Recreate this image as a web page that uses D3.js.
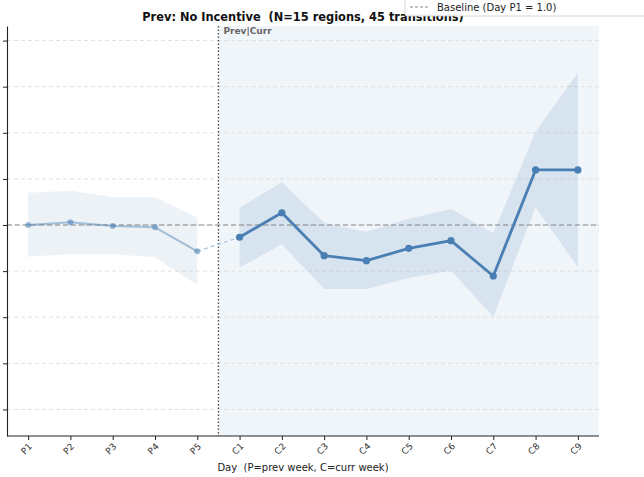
<!DOCTYPE html>
<html>
<head>
<meta charset="utf-8">
<script src="https://cdn.jsdelivr.net/npm/d3@7"></script>
<style>
  html, body { margin: 0; padding: 0; background: #fff; }
  svg { display: block; font-family: "DejaVu Sans", sans-serif; }
  text { white-space: pre; }
</style>
</head>
<body>
<svg id="chart" width="644" height="477"></svg>
<script>
// ---- data ----
const prevDays = ["P1", "P2", "P3", "P4", "P5"];
const currDays = ["C1", "C2", "C3", "C4", "C5", "C6", "C7", "C8", "C9"];
const prevMean = [1.000, 1.003, 0.999, 0.9975, 0.9715];
const prevLow  = [0.9656, 0.9685, 0.9682, 0.965, 0.9349];
const prevHigh = [1.035, 1.0372, 1.030, 1.030, 1.0079];
const currMean = [0.9867, 1.0133, 0.9667, 0.9613, 0.9747, 0.983, 0.9447, 1.0597, 1.0597];
const currLow  = [0.9541, 0.9791, 0.9306, 0.9306, 0.9425, 0.9504, 0.9005, 1.0192, 0.9541];
const currHigh = [1.0188, 1.0463, 1.0025, 0.9927, 1.0068, 1.0174, 0.991, 1.1012, 1.1652];
const yTicks = [0.80, 0.85, 0.90, 0.95, 1.00, 1.05, 1.10, 1.15, 1.20];
const baselineValue = 1.0;
const titleText = "Prev: No Incentive  (N=15 regions, 45 transitions)";
const xLabel = "Day  (P=prev week, C=curr week)";
const legendLabel = "Baseline (Day P1 = 1.0)";
const dividerLabel = "Prev|Curr";

// ---- layout ----
const pL = 7, pR = 599, pT = 26, pB = 436;
const svg = d3.select("#chart");
const allDays = prevDays.concat(currDays);

const x = d3.scalePoint().domain(allDays).range([pL, pR]).padding(0.5);
const y = d3.scaleLinear().domain([0.7712, 1.2158]).range([pB, pT]);

const mainColor = "#4a7fb4";

// current-week shaded background
const divX = (x("P5") + x("C1")) / 2;
svg.append("rect")
  .attr("x", divX).attr("y", pT)
  .attr("width", pR - divX).attr("height", pB - pT)
  .attr("fill", "#f0f5fa");

// gridlines
svg.append("g").selectAll("line").data(yTicks).join("line")
  .attr("x1", pL).attr("x2", pR)
  .attr("y1", d => y(d)).attr("y2", d => y(d))
  .attr("stroke", "#d9d9d9").attr("stroke-width", 0.8)
  .attr("stroke-dasharray", "4,3");

// bands
const area = d3.area()
  .x(d => x(d.day)).y0(d => y(d.lo)).y1(d => y(d.hi));
const prevData = prevDays.map((d, i) => ({day: d, m: prevMean[i], lo: prevLow[i], hi: prevHigh[i]}));
const currData = currDays.map((d, i) => ({day: d, m: currMean[i], lo: currLow[i], hi: currHigh[i]}));

svg.append("path").datum(prevData).attr("d", area)
  .attr("fill", mainColor).attr("fill-opacity", 0.1);
svg.append("path").datum(currData).attr("d", area)
  .attr("fill", mainColor).attr("fill-opacity", 0.15);

// baseline
svg.append("line")
  .attr("x1", pL).attr("x2", pR)
  .attr("y1", y(baselineValue)).attr("y2", y(baselineValue))
  .attr("stroke", "#888").attr("stroke-width", 1.2)
  .attr("stroke-dasharray", "5,3");

// divider
svg.append("line")
  .attr("x1", divX).attr("x2", divX)
  .attr("y1", pT).attr("y2", pB)
  .attr("stroke", "#444").attr("stroke-width", 1.3)
  .attr("stroke-dasharray", "1.5,2");
svg.append("text")
  .attr("x", divX + 5).attr("y", pT + 8)
  .attr("font-size", 9).attr("font-weight", "bold")
  .attr("fill", "#666").text(dividerLabel);

// lines
const line = d3.line().x(d => x(d.day)).y(d => y(d.m));

// connector P5 -> C1
svg.append("path").datum([prevData[prevData.length - 1], currData[0]])
  .attr("d", line).attr("fill", "none")
  .attr("stroke", "#a9c3dc").attr("stroke-width", 1.2)
  .attr("stroke-dasharray", "4,3");

svg.append("path").datum(prevData).attr("d", line)
  .attr("fill", "none").attr("stroke", mainColor)
  .attr("stroke-opacity", 0.45).attr("stroke-width", 2);
svg.append("g").selectAll("circle").data(prevData).join("circle")
  .attr("cx", d => x(d.day)).attr("cy", d => y(d.m)).attr("r", 3)
  .attr("fill", mainColor).attr("fill-opacity", 0.55);

svg.append("path").datum(currData).attr("d", line)
  .attr("fill", "none").attr("stroke", mainColor)
  .attr("stroke-width", 2.8).attr("stroke-linejoin", "round");
svg.append("g").selectAll("circle").data(currData).join("circle")
  .attr("cx", d => x(d.day)).attr("cy", d => y(d.m)).attr("r", 3.6)
  .attr("fill", mainColor);

// axes
const yAxis = d3.axisLeft(y).tickValues(yTicks).tickFormat("").tickSize(4).tickSizeOuter(0);
const gy = svg.append("g").attr("transform", `translate(${pL},0)`).call(yAxis);
gy.select(".domain").attr("stroke", "#222").attr("stroke-width", 1.1);
gy.selectAll(".tick line").attr("stroke", "#222");

const xAxis = d3.axisBottom(x).tickSize(4).tickSizeOuter(0);
const gx = svg.append("g").attr("transform", `translate(0,${pB})`).call(xAxis);
gx.select(".domain").attr("stroke", "#222").attr("stroke-width", 1.1)
  .attr("d", `M${pL},0H${pR}`);
gx.selectAll(".tick line").attr("stroke", "#222");
gx.selectAll(".tick text")
  .attr("font-family", "DejaVu Sans").attr("font-size", 9).attr("fill", "#333")
  .attr("text-anchor", "middle").attr("dy", null).attr("y", null)
  .attr("transform", "translate(0,15) rotate(-45)");

svg.append("text")
  .attr("x", (pL + pR) / 2).attr("y", 471)
  .attr("text-anchor", "middle").attr("font-size", 10).attr("fill", "#222")
  .text(xLabel);

// title
svg.append("text")
  .attr("x", (pL + pR) / 2).attr("y", 21)
  .attr("text-anchor", "middle").attr("font-size", 11.4).attr("font-weight", "bold")
  .attr("fill", "#111").text(titleText);

// legend (partly cut off at top)
const lg = svg.append("g");
lg.append("rect")
  .attr("x", 405).attr("y", -10).attr("width", 260).attr("height", 26)
  .attr("rx", 2).attr("fill", "#fff").attr("fill-opacity", 0.95)
  .attr("stroke", "#ccc").attr("stroke-width", 0.8);
lg.append("line")
  .attr("x1", 410).attr("x2", 429).attr("y1", 7).attr("y2", 7)
  .attr("stroke", "#888").attr("stroke-width", 1.2).attr("stroke-dasharray", "3,2");
lg.append("text")
  .attr("x", 437).attr("y", 11).attr("font-size", 10).attr("fill", "#222")
  .text(legendLabel);
</script>
</body>
</html>
